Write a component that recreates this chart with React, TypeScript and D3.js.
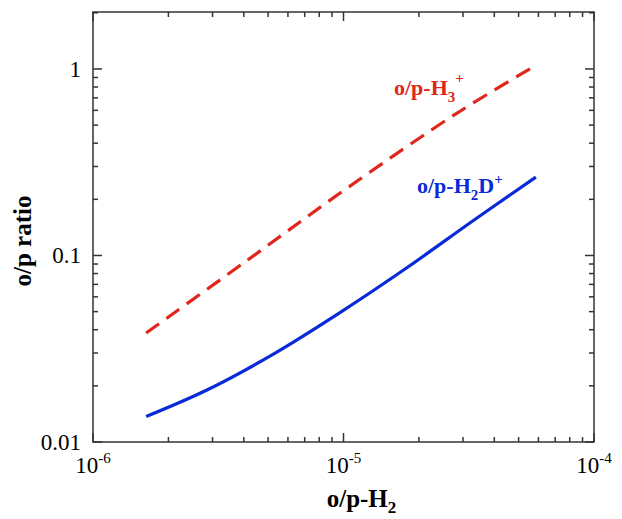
import * as d3 from "d3";

const h3x = [1.63e-6, 4.11e-6, 1.03e-5, 2.83e-5, 5.9e-5];
const h3y = [0.0384, 0.0938, 0.229, 0.578, 1.05];
const h2dx = [1.63e-6, 2.85e-6, 5.25e-6, 9.68e-6, 1.79e-5, 3.3e-5, 5.86e-5];
const h2dy = [0.0137, 0.019, 0.0296, 0.0494, 0.0859, 0.154, 0.263];
const xMajor = [-6, -5, -4];
const yMajor = [0.01, 0.1, 1];
const yLabels = ["0.01", "0.1", "1"];

const W = 622, H = 519;
const m = { left: 93, top: 12, right: 28, bottom: 77 };
const font = "'Liberation Serif', 'Times New Roman', serif";

export default function App() {
  const x = d3.scaleLog().domain([1e-6, 1e-4]).range([m.left, W - m.right]);
  const y = d3.scaleLog().domain([0.01, 2.02]).range([H - m.bottom, m.top]);
  const x0 = m.left, x1 = W - m.right, y0 = H - m.bottom, y1 = m.top;

  const line = d3.line<number>().curve(d3.curveCatmullRom.alpha(0.5));
  const redPath = line.x((_d, i) => x(h3x[i])).y((d) => y(d))(h3y) ?? "";
  const bluePath = line.x((_d, i) => x(h2dx[i])).y((d) => y(d))(h2dy) ?? "";

  const xTicks: { v: number; major: boolean }[] = [];
  for (let e = -6; e < -4; e++)
    for (let k = 1; k < 10; k++) xTicks.push({ v: k * 10 ** e, major: k === 1 });
  xTicks.push({ v: 1e-4, major: true });
  const yTicks: { v: number; major: boolean }[] = [];
  for (let e = -2; e <= 0; e++)
    for (let k = 1; k < 10; k++) {
      const v = k * 10 ** e;
      if (v <= 2.02) yTicks.push({ v, major: k === 1 });
    }

  return (
    <svg width={W} height={H} style={{ position: "absolute", left: 0, top: 0 }} fontFamily={font}>
      <rect x={x0} y={y1} width={x1 - x0} height={y0 - y1} fill="none" stroke="#333" strokeWidth={1.5} />
      {xTicks.map((t, i) => {
        const len = t.major ? 9 : 5;
        const px = x(t.v);
        return (
          <g key={"x" + i} stroke="#333" strokeWidth={1.5}>
            <line x1={px} x2={px} y1={y0} y2={y0 - len} />
            <line x1={px} x2={px} y1={y1} y2={y1 + len} />
          </g>
        );
      })}
      {yTicks.map((t, i) => {
        const len = t.major ? 9 : 5;
        const py = y(t.v);
        return (
          <g key={"y" + i} stroke="#333" strokeWidth={1.5}>
            <line x1={x0} x2={x0 + len} y1={py} y2={py} />
            <line x1={x1} x2={x1 - len} y1={py} y2={py} />
          </g>
        );
      })}
      {xMajor.map((e) => (
        <text key={e} x={x(10 ** e)} y={y0 + 31} textAnchor="middle" fontSize={23}>
          10<tspan dy={-10} fontSize={15}>{e}</tspan>
        </text>
      ))}
      {yMajor.map((v, i) => (
        <text key={v} x={x0 - 12} y={y(v) + 8} textAnchor="end" fontSize={23}>
          {yLabels[i]}
        </text>
      ))}
      <text x={(x0 + x1) / 2 + 18} y={507} textAnchor="middle" fontSize={25} fontWeight="bold">
        o/p-H<tspan dy={6} fontSize={17}>2</tspan>
      </text>
      <text transform={`translate(31,${(y0 + y1) / 2 + 14}) rotate(-90)`} textAnchor="middle" fontSize={25} fontWeight="bold">
        o/p ratio
      </text>
      <path d={redPath} fill="none" stroke="#e0261c" strokeWidth={3.2} strokeDasharray="16 9" />
      <path d={bluePath} fill="none" stroke="#0a2ad8" strokeWidth={3.2} />
      <text x={394} y={95} fontSize={22} fontWeight="bold" fill="#e0261c">
        o/p-H<tspan dy={7} fontSize={15}>3</tspan>
        <tspan dy={-19} fontSize={15}>+</tspan>
      </text>
      <text x={417} y={193} fontSize={22} fontWeight="bold" fill="#0a2ad8">
        o/p-H<tspan dy={7} fontSize={15}>2</tspan>
        <tspan dy={-7}>D</tspan>
        <tspan dy={-9} fontSize={15}>+</tspan>
      </text>
    </svg>
  );
}
